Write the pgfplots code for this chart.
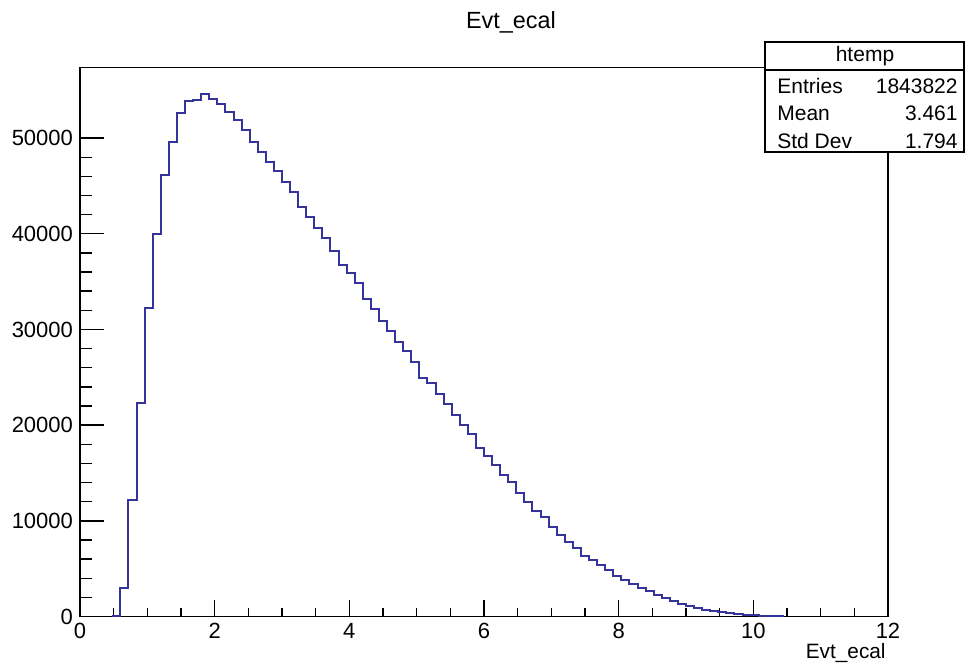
\documentclass[border=0pt]{standalone}
\usepackage{pgfplots}
\pgfplotsset{compat=1.18}
\usepackage{fontspec}
\setmainfont{Liberation Sans}
\definecolor{histblue}{RGB}{51,51,153}
\begin{document}
\begin{tikzpicture}[x=1pt,y=1pt]
\path[use as bounding box] (0,0) rectangle (483,334);
\begin{axis}[
  at={(40pt,25.75pt)}, anchor=south west,
  scale only axis, width=404pt, height=274.6pt,
  xmin=0, xmax=12, ymin=0, ymax=57400,
  xtick={0,2,...,12}, ytick={0,10000,...,50000},
  minor x tick num=3, minor y tick num=4,
  tick pos=left, tick align=inside,
  major x tick style={/pgfplots/major tick length=8.2pt},
  minor x tick style={/pgfplots/minor tick length=4.1pt},
  major y tick style={/pgfplots/major tick length=12pt},
  minor y tick style={/pgfplots/minor tick length=6pt},
  every tick/.style={black, line width=0.7pt},
  axis line style={line width=0.7pt},
  tick label style={font=\fontsize{11}{13}\selectfont},
  /pgf/number format/assume math mode=true,
  /pgf/number format/1000 sep={},
  scaled y ticks=false,
  clip=false,
]
\addplot[const plot, histblue, line width=1pt, no markers] coordinates {
(0.48,60) (0.60,3000) (0.72,12130) (0.84,22330) (0.96,32260)
(1.08,40000) (1.20,46160) (1.32,49630) (1.44,52630) (1.56,53840)
(1.68,54020) (1.80,54610) (1.92,54090) (2.04,53570) (2.16,52690)
(2.28,51900) (2.40,50860) (2.52,49630) (2.64,48590) (2.76,47550)
(2.88,46530) (3.00,45390) (3.12,44340) (3.24,42750) (3.36,41730)
(3.48,40610) (3.60,39510) (3.72,38150) (3.84,36690) (3.96,35890)
(4.08,34840) (4.20,33220) (4.32,32150) (4.44,30900) (4.56,29800)
(4.68,28680) (4.80,27770) (4.92,26600) (5.04,24930) (5.16,24450)
(5.28,23300) (5.40,22250) (5.52,21030) (5.64,19990) (5.76,19050)
(5.88,17660) (6.00,16750) (6.12,15880) (6.24,14770) (6.36,14070)
(6.48,12860) (6.60,11990) (6.72,11010) (6.84,10420) (6.96,9380)
(7.08,8510) (7.20,7810) (7.32,7120) (7.44,6350) (7.56,5900)
(7.68,5380) (7.80,4850) (7.92,4260) (8.04,3810) (8.16,3400)
(8.28,3000) (8.40,2620) (8.52,2250) (8.64,1900) (8.76,1600)
(8.88,1330) (9.00,1100) (9.12,880) (9.24,700) (9.36,560)
(9.48,430) (9.60,330) (9.72,250) (9.84,180) (9.96,130)
(10.08,90) (10.20,55) (10.32,30) (10.44,0)
};
\end{axis}
\node[font=\fontsize{11.7}{14}\selectfont] at (255.5,323) {Evt\_ecal};
\node[anchor=east, font=\fontsize{10.4}{12}\selectfont, inner sep=0pt] at (443,7.5) {Evt\_ecal};
\draw[fill=white, line width=0.6pt] (382.5,258) rectangle (482,313);
\draw[line width=0.6pt] (382.5,299) -- (482,299);
\begin{scope}[every node/.style={font=\fontsize{10.5}{12}\selectfont, inner sep=0pt}]
\node at (432.5,306) {htemp};
\node[anchor=west] at (388.5,291) {Entries};
\node[anchor=east] at (479,291) {1843822};
\node[anchor=west] at (388.5,277.5) {Mean};
\node[anchor=east] at (479,277.5) {3.461};
\node[anchor=west] at (388.5,263.5) {Std Dev};
\node[anchor=east] at (479,263.5) {1.794};
\end{scope}
\end{tikzpicture}
\end{document}
